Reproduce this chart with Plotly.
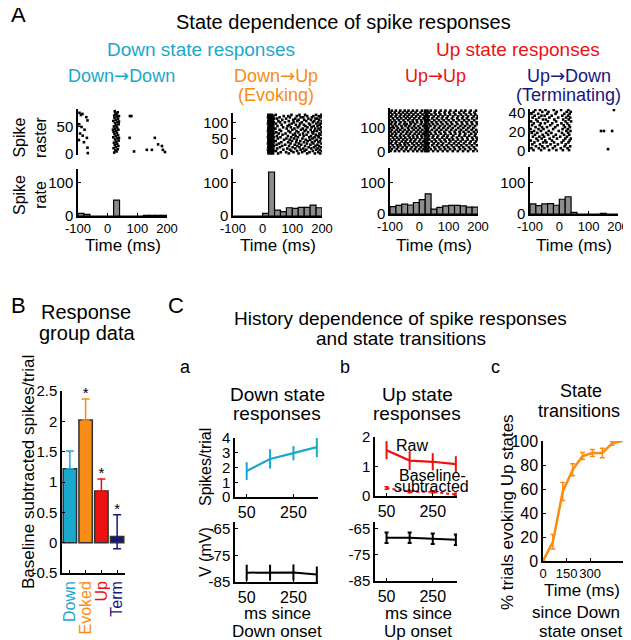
import plotly.graph_objects as go

W, H = 631, 640
OX, OY = 8, 8  # page offset of the plot inside the browser window
FONT = "Liberation Sans, Arial, sans-serif"
CYAN = "#1aa8cc"
ORANGE = "#f98c14"
RED = "#ee1111"
NAVY = "#16167f"
BAR_GRAY = "#8c8c8c"
ARROW = "<span style='font-family:DejaVu Sans'>→</span>"

# ---------------- data ----------------
HIST_CENTERS = [-90, -70, -50, -30, -10, 10, 30, 50, 70, 90, 110, 130, 150, 170, 190]
HIST_DD = [8, 5, 0, 0, 0, 0, 48, 0, 0, 0, 0, 2, 2, 2, 2]
HIST_DU = [0, 0, 0, 0, 0, 8, 133, 18, 13, 25, 23, 26, 26, 33, 25]
HIST_UU = [24, 28, 32, 29, 37, 46, 65, 16, 21, 26, 28, 28, 26, 22, 22]
HIST_UD = [32, 27, 32, 33, 28, 47, 55, 5, 0, 0, 0, 0, 2, 0, 0]

# spike rasters: "trial: spike times (ms)"
RASTER_DD = [
    "79: 24", "77: 34", "76: -95", "75: 26", "74: -85", "73: 30", "72: -90", "71: 22",
    "70: 38 75 80", "69: 31", "68: -72", "67: 23", "65: 35", "63: 27", "62: -68", "61: 19",
    "60: 38", "59: 33", "57: 25", "55: -96 37", "53: 29", "51: 21", "50: -88", "49: 32",
    "47: 24", "45: -78 18 36", "43: 28", "41: 20", "39: 31", "38: -93", "37: 23", "35: 35",
    "34: -84", "33: 27", "31: 19", "30: -70 38 74 159", "29: 33", "27: 25", "26: -97",
    "25: 37", "23: 29", "22: -80", "21: 21", "19: 32", "18: 170", "17: 24", "15: 36 183",
    "13: 28", "12: -68", "11: 20", "9: 34", "8: 132 149 186", "7: 26", "5: 30 89",
    "4: 193", "3: 22", "2: -67",
]
RASTER_DU = [
    "2: 20 28 35 52 88 121 150 176 194", "6: 19 26 33 61 79 104 133 158 187",
    "10: 22 30 37 45 97 116 141 169 199", "14: 18 25 34 70 92 128 147 180 192",
    "18: 21 29 36 49 83 110 137 164 185", "22: 19 27 32 58 101 124 155 173 196",
    "26: 23 31 38 66 89 117 143 178 190", "30: 20 26 35 47 76 108 130 161 184",
    "34: 18 29 33 55 94 122 149 171 198", "38: 22 28 37 63 86 113 139 166 188",
    "42: 19 25 34 44 99 127 152 176 193", "46: 21 30 36 72 91 115 145 160 182",
    "50: 20 27 33 51 80 106 134 168 197", "54: 18 31 38 60 96 119 157 175 189",
    "58: 23 26 35 48 85 111 138 163 186", "62: 19 29 32 67 102 125 148 179 195",
    "66: 21 28 37 54 77 109 136 170 191", "70: 20 24 34 46 93 120 153 167 199",
    "74: 18 30 36 62 87 114 141 174 183", "78: 22 27 33 57 100 129 146 162 194",
    "82: 19 31 38 43 81 107 135 177 188", "86: 21 26 35 69 95 118 151 165 197",
    "90: 20 29 32 50 84 123 144 172 185", "94: 23 28 36 64 90 112 139 160 192",
    "98: 18 25 34 45 98 126 156 181 196", "102: 21 30 37 59 75 105 132 169 187",
    "106: 19 27 33 53 88 117 147 174 199", "110: 22 31 35 66 103 121 140 163 190",
    "114: 20 26 38 48 79 110 154 178 184", "118: 18 29 34 57 92 128 137 166 195",
    "122: 21 28 36 71 86 115 150 171 189", "126: 19 25 32 44 97 124 143 180 198",
]
RASTER_UU = [
    "4: -98 -83 -69 -52 -38 -21 -7 8 19 25 31 47 63 80 96 114 131 149 166 184 199",
    "12: -94 -77 -61 -46 -30 -15 0 14 20 28 39 55 72 88 105 121 139 156 174 191",
    "20: -100 -86 -72 -57 -43 -26 -11 5 18 24 33 51 67 84 99 117 135 150 169 186",
    "28: -91 -75 -64 -49 -35 -18 -3 11 21 29 44 60 76 93 110 127 143 161 179 196",
    "36: -97 -81 -67 -51 -40 -24 -9 6 19 26 32 49 65 81 101 118 134 152 171 188",
    "44: -93 -78 -60 -47 -31 -17 -1 13 20 27 42 57 74 90 106 124 141 158 175 193",
    "52: -99 -85 -70 -55 -42 -28 -13 3 18 25 34 52 69 86 102 115 132 148 165 183 198",
    "60: -90 -76 -63 -48 -33 -20 -6 9 21 30 45 61 78 94 111 128 145 163 180 195",
    "68: -96 -82 -66 -53 -37 -22 -8 7 19 24 33 48 64 83 97 116 136 154 170 189",
    "76: -92 -79 -62 -45 -32 -16 -2 12 20 28 40 56 73 89 107 123 139 157 177 192",
    "84: -98 -84 -71 -56 -41 -27 -10 4 18 26 35 53 68 85 103 120 137 151 168 186 200",
    "92: -94 -77 -65 -50 -36 -19 -4 10 22 29 43 59 75 92 109 125 142 160 178 194",
    "100: -100 -87 -73 -58 -39 -25 -12 2 19 25 31 50 66 82 98 114 133 150 167 184",
    "108: -91 -78 -61 -47 -34 -18 -3 13 20 27 38 54 71 87 104 122 140 156 173 190",
    "116: -97 -83 -68 -52 -43 -29 -14 5 18 24 33 47 62 79 96 112 130 147 164 181 197",
    "124: -93 -80 -64 -49 -31 -21 -7 8 21 28 42 58 74 91 108 126 144 161 178 195",
    "132: -99 -85 -70 -54 -38 -23 -9 6 19 26 34 51 67 83 100 117 135 153 169 187",
    "140: -90 -75 -62 -46 -33 -17 -1 14 20 29 44 60 77 93 111 129 146 162 180 196",
    "148: -96 -81 -67 -53 -40 -26 -11 3 18 25 32 49 65 80 97 115 132 149 166 185 199",
    "156: -92 -78 -63 -48 -35 -20 -5 11 22 27 41 56 72 88 105 123 141 159 176 191",
    "164: -98 -84 -69 -56 -42 -28 -13 4 19 24 33 52 68 86 102 118 136 152 171 188",
    "172: -94 -80 -65 -50 -37 -22 -8 9 20 28 39 55 73 89 106 124 143 157 175 193",
]
RASTER_UD = [
    "1: -88 -62 -35 -10 12 33", "2: 166", "3: -95 -70 -51 -22 5 28", "5: -80 -58 -40 -15 18 37",
    "7: -92 -66 -30 -5 22", "9: -85 -55 -44 -18 8 31", "11: -97 -73 -48 -25 14 35",
    "13: -78 -60 -33 -8 20 39", "15: -90 -68 -52 -20 3 26", "17: -83 -57 -38 -12 16 34",
    "19: -94 -75 -45 -27 9 30", "21: -86 -63 -36 -2 24 38 142 152 180", "23: -98 -71 -54 -21 11 29",
    "25: -81 -59 -42 -14 19 36", "27: -93 -67 -31 -6 15 33", "29: -87 -64 -49 -24 7 27",
    "31: -96 -74 -39 -11 21 40", "33: -79 -56 -46 -17 13 32", "35: -91 -69 -34 -4 23 37",
    "37: -84 -61 -50 -26 10 30", "39: -95 -72 -41 -13 17 35", "41: -88 -58 -37 -9 25 39",
    "43: -82 -66 -47 -19 6 31 186",
]

GROUPS = ["Down", "Evoked", "Up", "Term"]
GROUP_COLORS = [CYAN, ORANGE, RED, NAVY]
B_MEAN = [1.22, 2.02, 0.85, 0.10]
B_ERR_UP = [0.29, 0.35, 0.20, 0.36]
B_ERR_DOWN = [0.0, 0.0, 0.0, 0.20]
B_SIG = ["", "*", "*", "*"]

ONSET_MS = [50, 150, 250, 350]
CA_SPK = [1.76, 2.58, 2.97, 3.38]
CA_SPK_ERR = [0.60, 0.66, 0.48, 0.68]
CA_V = [-81.5, -81.5, -81.4, -82.2]
CA_V_ERR = [3, 3, 3, 3]
CB_RAW = [1.55, 1.20, 1.16, 1.08]
CB_RAW_ERR = [0.31, 0.32, 0.29, 0.27]
CB_SUB = [0.27, 0.15, 0.14, 0.05]
CB_SUB_ERR = [0.04, 0.04, 0.04, 0.04]
CB_V = [-68.5, -68.5, -68.9, -69.3]
CB_V_ERR = [2, 2, 2, 2]

CC_T = [0, 63, 126, 189, 252, 315, 378, 441, 504]
CC_PCT = [0, 16, 58, 76, 87.5, 90, 90, 98, 100]
CC_ERR = [0, 6, 7.5, 5, 3, 3, 4, 1.5, 0]


def parse_raster(rows):
    xs, ys = [], []
    for r in rows:
        trial, times = r.split(":")
        for t in times.split():
            xs.append(float(t))
            ys.append(float(trial))
    return xs, ys


# ---------------- layout helpers ----------------
layout = dict(
    width=W, height=H, margin=dict(l=0, r=0, t=0, b=0, pad=0, autoexpand=False),
    paper_bgcolor="white", plot_bgcolor="rgba(0,0,0,0)",
    showlegend=False, barmode="overlay",
    font=dict(family=FONT, color="black"),
)
annotations = []
traces = []


def fx(x):
    return (x - OX) / W


def fy(y):
    return 1 - (y - OY) / H


def axes(n, px, py, xr, yr, xticks=None, xtext=None, yticks=None, ytext=None,
         showx=True, xfont=13, yfont=15, xangle=0):
    xk = "xaxis" if n == 1 else f"xaxis{n}"
    yk = "yaxis" if n == 1 else f"yaxis{n}"
    xa = dict(domain=[fx(px[0]), fx(px[1])], range=xr, anchor="y" if n == 1 else f"y{n}",
              showgrid=False, zeroline=False, fixedrange=True, automargin=False)
    if showx:
        xa.update(showline=True, linecolor="black", linewidth=1.5, ticks="inside", ticklen=3,
                  tickwidth=1.2, tickcolor="black", tickfont=dict(size=xfont, family=FONT),
                  tickvals=xticks, ticktext=xtext if xtext else [str(v) for v in xticks],
                  tickangle=xangle)
    else:
        xa.update(showline=False, showticklabels=False, ticks="")
    ya = dict(domain=[fy(py[1]), fy(py[0])], range=yr, anchor="x" if n == 1 else f"x{n}",
              showgrid=False, zeroline=False, fixedrange=True, showline=True, linecolor="black",
              linewidth=1.5, ticks="inside", ticklen=3, tickwidth=1.2, tickcolor="black",
              tickfont=dict(size=yfont, family=FONT), tickvals=yticks, automargin=False,
              ticktext=ytext if ytext else [str(v) for v in yticks])
    layout[xk] = xa
    layout[yk] = ya
    return ("x" if n == 1 else f"x{n}"), ("y" if n == 1 else f"y{n}")


def ann(text, x, y, size=16, color="black", angle=0, xanchor="center"):
    annotations.append(dict(text=text, x=fx(x), y=fy(y), xref="paper", yref="paper",
                            showarrow=False, textangle=angle, xanchor=xanchor, yanchor="middle",
                            font=dict(size=size, color=color, family=FONT)))


# ---------------- panel A ----------------
panelsA = [
    (RASTER_DD, HIST_DD, (78, 167), (109, 155), [-1.5, 83], [0, 50], (169, 216), [0, 142]),
    (RASTER_DU, HIST_DU, (233, 322), (113, 155), [-3, 132], [0, 50, 100], (169, 216), [0, 142]),
    (RASTER_UU, HIST_UU, (390, 478), (108, 153), [-4, 183], [0, 100], (168, 214), [0, 148]),
    (RASTER_UD, HIST_UD, (530, 618), (109, 152), [-1, 44], [0, 20, 40], (167, 214), [0, 150]),
]
n = 1
for rows, hist, px, pry, ryr, ryt, phy, hyr in panelsA:
    xa, ya = axes(n, px, pry, [-100, 200], ryr, yticks=ryt, showx=False)
    xs, ys = parse_raster(rows)
    traces.append(go.Scatter(x=xs, y=ys, mode="markers", xaxis=xa, yaxis=ya,
                             marker=dict(symbol="square", size=2.6, color="black", line=dict(width=0))))
    n += 1
    xa, ya = axes(n, px, phy, [-100, 200], hyr, xticks=[-100, 0, 100, 200], yticks=[0, 100])
    traces.append(go.Bar(x=HIST_CENTERS, y=hist, width=20, xaxis=xa, yaxis=ya,
                         marker=dict(color=BAR_GRAY, line=dict(color="black", width=1.2))))
    n += 1
    ann("Time (ms)", (px[0] + px[1]) / 2, 245, size=17)

ann("A", 9, 14, size=22, xanchor="left")
ann("State dependence of spike responses", 343, 22, size=20)
ann("Down state responses", 201, 49, size=19, color=CYAN)
ann("Up state responses", 518, 49, size=19, color=RED)
ann(f"Down{ARROW}Down", 121, 75, size=18, color=CYAN)
ann(f"Down{ARROW}Up", 276, 75, size=18, color=ORANGE)
ann("(Evoking)", 276, 95, size=18, color=ORANGE)
ann(f"Up{ARROW}Up", 435, 75, size=18, color=RED)
ann(f"Up{ARROW}Down", 569, 75, size=18, color=NAVY)
ann("(Terminating)", 568, 95, size=18, color=NAVY)
ann("Spike<br>raster", 30, 137, size=16, angle=-90)
ann("Spike<br>rate", 30, 195, size=16, angle=-90)

# ---------------- panel B ----------------
xa, ya = axes(n, (62, 125), (391, 573), [0.5, 4.5], [-0.5, 2.5],
              xticks=[1, 2, 3, 4],
              xtext=[f"<span style='color:{c}'>{g}</span>" for g, c in zip(GROUPS, GROUP_COLORS)],
              yticks=[-0.5, 0, 0.5, 1, 1.5, 2, 2.5],
              ytext=["-0.5", "0", "0.5", "1", "1.5", "2", "2.5"], xfont=16, yfont=15, xangle=-90)
n += 1
for i, g in enumerate(GROUPS):
    traces.append(go.Bar(x=[i + 1], y=[B_MEAN[i]], width=0.85, xaxis=xa, yaxis=ya,
                         marker=dict(color=GROUP_COLORS[i], line=dict(color="#333333", width=1.5)),
                         error_y=dict(type="data", symmetric=False, array=[B_ERR_UP[i]],
                                      arrayminus=[B_ERR_DOWN[i]], color=GROUP_COLORS[i],
                                      thickness=1.5, width=4)))
sig_x = [i + 1 for i in range(4) if B_SIG[i]]
sig_y = [B_MEAN[i] + B_ERR_UP[i] + 0.08 for i in range(4) if B_SIG[i]]
traces.append(go.Scatter(x=sig_x, y=sig_y, mode="text", text=[s for s in B_SIG if s],
                         textposition="middle center", textfont=dict(size=15, color="black"),
                         cliponaxis=False, xaxis=xa, yaxis=ya))
ann("B", 9, 305, size=22, xanchor="left")
ann("Response", 86, 312, size=20)
ann("group data", 87, 333, size=20)
ann("Baseline subtracted spikes/trial", 28, 472, size=17, angle=-90)

# ---------------- panel C ----------------
ann("C", 176, 305, size=22)
ann("History dependence of spike responses", 401, 318, size=19)
ann("and state transitions", 401, 338, size=19)

# a
ann("a", 185, 367, size=18)
ann("Down state", 277, 394, size=19)
ann("responses", 277, 413, size=19)
xa, ya = axes(n, (235, 318), (438, 497), [0, 355], [0, 4], xticks=[50, 250],
              yticks=[0, 1, 2, 3, 4], xfont=16, yfont=15)
n += 1
traces.append(go.Scatter(x=ONSET_MS, y=CA_SPK, mode="lines", xaxis=xa, yaxis=ya,
                         line=dict(color=CYAN, width=2.2),
                         error_y=dict(type="data", array=CA_SPK_ERR, color=CYAN, thickness=2, width=0)))
xa, ya = axes(n, (235, 318), (522, 582), [0, 355], [-85, -62.5], xticks=[50, 250],
              yticks=[-85, -75, -65], xfont=16, yfont=15)
n += 1
traces.append(go.Scatter(x=ONSET_MS, y=CA_V, mode="lines", xaxis=xa, yaxis=ya,
                         line=dict(color="black", width=2),
                         error_y=dict(type="data", array=CA_V_ERR, color="black", thickness=2, width=0)))
ann("Spikes/trial", 205, 467, size=16, angle=-90)
ann("V (mV)", 205, 552, size=16, angle=-90)
ann("ms since", 277, 613, size=17)
ann("Down onset", 277, 631, size=17)

# b
ann("b", 345, 367, size=18)
ann("Up state", 417, 394, size=19)
ann("responses", 417, 413, size=19)
xa, ya = axes(n, (375, 457), (437, 496), [0, 355], [0, 2], xticks=[50, 250],
              yticks=[0, 1, 2], xfont=16, yfont=15)
n += 1
traces.append(go.Scatter(x=ONSET_MS, y=CB_RAW, mode="lines", xaxis=xa, yaxis=ya,
                         line=dict(color=RED, width=2.2),
                         error_y=dict(type="data", array=CB_RAW_ERR, color=RED, thickness=2, width=0)))
traces.append(go.Scatter(x=ONSET_MS, y=CB_SUB, mode="lines", xaxis=xa, yaxis=ya,
                         line=dict(color=RED, width=2, dash="dot"),
                         error_y=dict(type="data", array=CB_SUB_ERR, color=RED, thickness=1.5, width=2)))
ann("Raw", 412, 445, size=16)
ann("Baseline-", 432, 475, size=16)
ann("subtracted", 431, 486, size=16)
xa, ya = axes(n, (375, 457), (522, 581), [0, 355], [-85, -62.5], xticks=[50, 250],
              yticks=[-85, -75, -65], xfont=16, yfont=15)
n += 1
traces.append(go.Scatter(x=ONSET_MS, y=CB_V, mode="lines", xaxis=xa, yaxis=ya,
                         line=dict(color="black", width=2),
                         error_y=dict(type="data", array=CB_V_ERR, color="black", thickness=2, width=2)))
ann("ms since", 418, 613, size=17)
ann("Up onset", 418, 631, size=17)

# c
ann("c", 495, 367, size=18)
ann("State", 581, 391, size=18)
ann("transitions", 579, 411, size=18)
xa, ya = axes(n, (543, 623), (441, 561), [0, 510], [0, 100], xticks=[0, 150, 300],
              yticks=[0, 20, 40, 60, 80, 100], xfont=13, yfont=16)
n += 1
traces.append(go.Scatter(x=CC_T, y=CC_PCT, mode="lines", xaxis=xa, yaxis=ya,
                         line=dict(color=ORANGE, width=2.5),
                         error_y=dict(type="data", array=CC_ERR, color=ORANGE, thickness=1.5, width=2.5)))
ann("% trials evoking Up states", 507, 512, size=17, angle=-90)
ann("Time (ms)", 582, 590, size=17)
ann("since Down", 576, 612, size=17)
ann("state onset", 580, 631, size=17)

layout["annotations"] = annotations
fig = go.Figure(data=traces, layout=layout)
fig.write_html("out.html")
